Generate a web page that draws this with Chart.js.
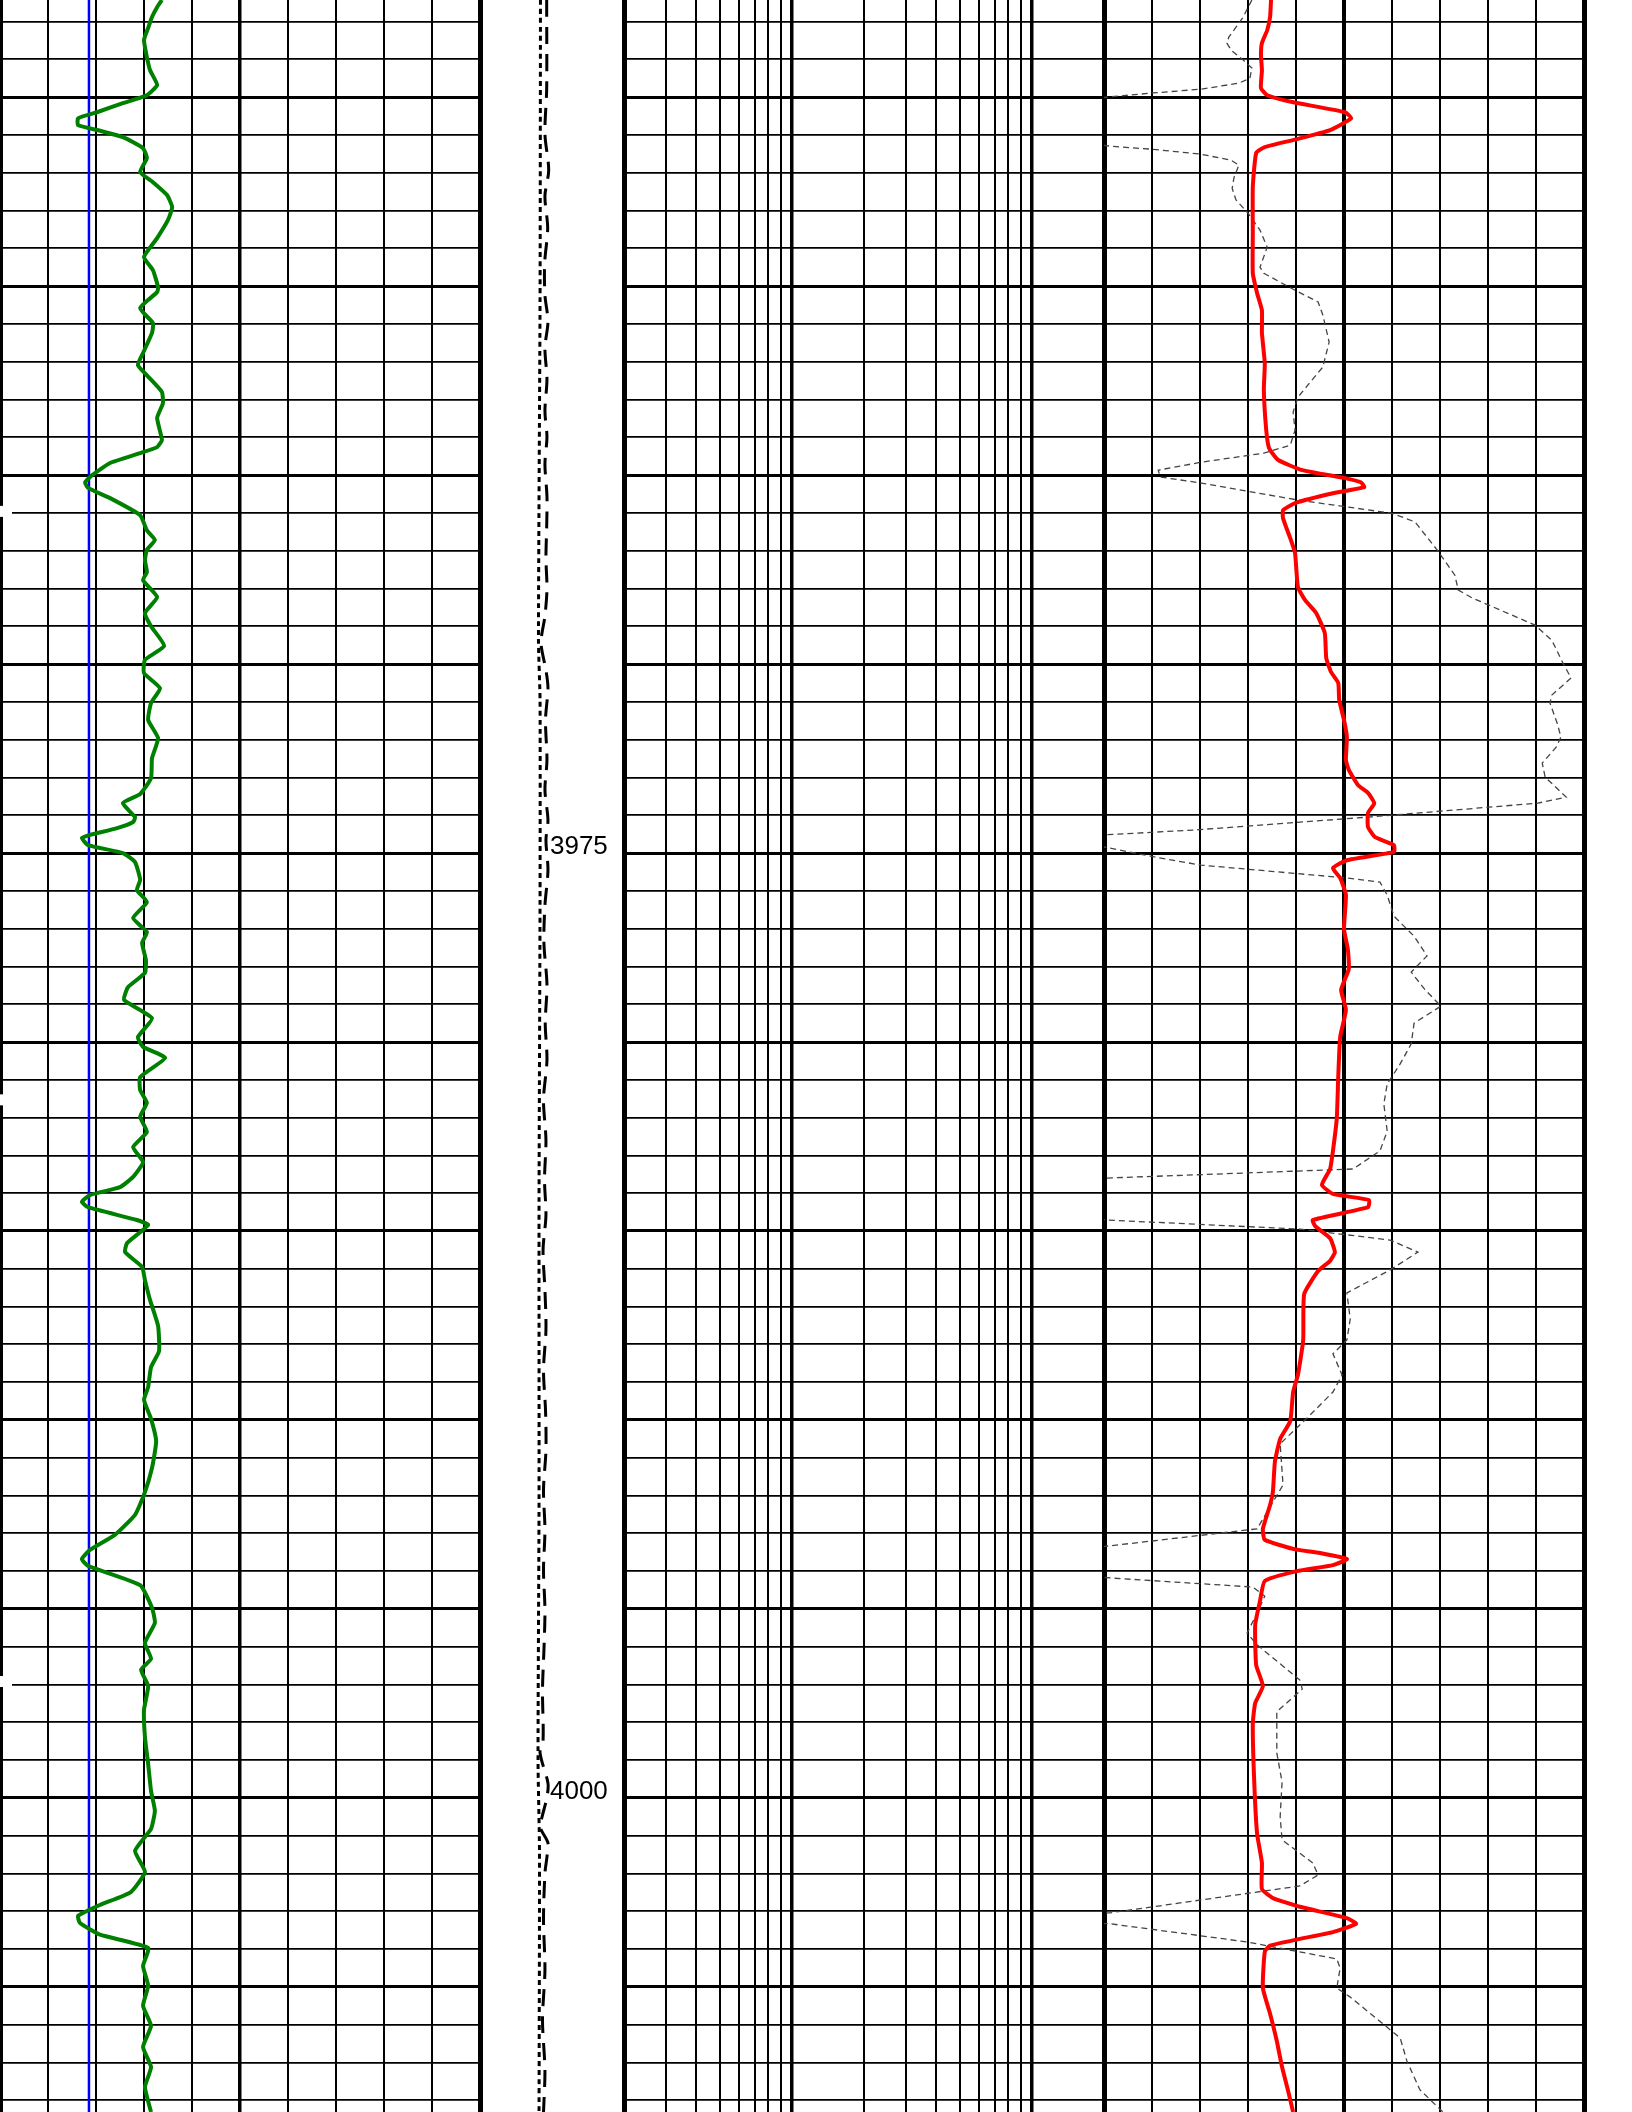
<!DOCTYPE html>
<html>
<head>
<meta charset="utf-8">
<script src="https://cdn.jsdelivr.net/npm/chart.js@4.4.0/dist/chart.umd.min.js"></script>
<style>
  body { margin: 0; background: #fff; }
  #log { position: relative; width: 1632px; height: 2112px; overflow: hidden; background: #fff; }
  #log canvas { position: absolute; top: 0; }
</style>
</head>
<body>
<div id="log">
  <canvas id="track1" width="488" height="2112" style="left:-4px"></canvas>
  <canvas id="depthTrack" width="144" height="2112" style="left:480px"></canvas>
  <canvas id="track2" width="488" height="2112" style="left:620px"></canvas>
  <canvas id="track3" width="488" height="2112" style="left:1100px"></canvas>
</div>
<script>
// depth window shown (ft)
const topDepth = 3952.43;
const bottomDepth = 4008.31;
const depthLabels = [3975, 4000];
// little breaks in the left edge of track 1
const edgeBreakDepths = [3966.0, 3981.57, 3996.96];

// one grid line per foot, heavy every 5 ft
const depthTicks = [];
for (let d = 3953; d <= 4008; d++) depthTicks.push(d);

// track 1 scale 0 - 150
const track1Ticks = [0, 15, 30, 45, 60, 75, 90, 105, 120, 135, 150];
// track 2 log scale 0.2 - 20
const track2Ticks = [0.2, 0.3, 0.4, 0.5, 0.6, 0.7, 0.8, 0.9, 1, 2, 3, 4, 5, 6, 7, 8, 9, 10, 20];
// track 3 scale 0 - 100
const track3Ticks = [0, 10, 20, 30, 40, 50, 60, 70, 80, 90, 100];

// green curve, track 1
const greenDepth = [3952.43, 3952.62, 3952.88, 3953.17, 3953.49, 3953.94, 3954.29, 3954.68, 3954.95, 3955.16,
  3955.40, 3955.56, 3955.74, 3955.87, 3956.06, 3956.35, 3956.61, 3956.98, 3957.25, 3957.59,
  3957.91, 3958.25, 3958.73, 3959.23, 3959.58, 3960.03, 3960.16, 3960.58, 3960.98, 3961.24,
  3961.77, 3962.09, 3962.36, 3962.80, 3963.10, 3963.49, 3964.07, 3964.26, 3964.42, 3964.68,
  3965.00, 3965.19, 3965.34, 3965.61, 3966.06, 3966.46, 3966.72, 3966.98, 3967.25, 3967.57,
  3967.78, 3968.23, 3968.65, 3969.00, 3969.52, 3969.89, 3970.24, 3970.64, 3971.03, 3971.48,
  3971.96, 3972.49, 3973.02, 3973.44, 3973.68, 3974.05, 3974.18, 3974.34, 3974.52, 3974.60,
  3974.79, 3975.00, 3975.24, 3975.71, 3975.98, 3976.30, 3976.72, 3977.09, 3977.38, 3977.83,
  3978.17, 3978.55, 3978.89, 3979.37, 3979.87, 3980.13, 3980.42, 3980.93, 3981.27, 3981.61,
  3981.98, 3982.38, 3982.78, 3983.18, 3983.57, 3983.84, 3984.05, 3984.23, 3984.37, 3984.71,
  3984.84, 3985.32, 3985.56, 3985.95, 3986.30, 3986.83, 3987.51, 3988.18, 3988.60, 3989.13,
  3989.47, 3989.97, 3990.56, 3991.27, 3991.98, 3992.51, 3993.04, 3993.44, 3993.68, 3993.86,
  3994.37, 3994.97, 3995.37, 3995.90, 3996.32, 3996.61, 3997.04, 3997.67, 3998.39, 3999.10,
  3999.82, 4000.34, 4000.82, 4001.40, 4001.96, 4002.49, 4002.83, 4003.12, 4003.31, 4003.62,
  4003.97, 4004.45, 4004.97, 4005.50, 4006.03, 4006.59, 4007.12, 4007.65, 4008.31];
const greenValue = [50.6, 49.1, 47.5, 46.3, 45.0, 45.9, 46.9, 49.1, 45.9, 38.4,
  30.3, 24.4, 24.4, 30.3, 38.4, 44.7, 45.9, 43.8, 47.8, 52.2,
  53.8, 52.5, 49.1, 45.0, 47.8, 49.4, 49.1, 43.8, 47.8, 47.5,
  44.7, 43.1, 45.9, 50.6, 50.9, 49.1, 50.6, 49.1, 43.8, 34.4,
  28.8, 26.6, 27.5, 34.4, 43.8, 45.9, 48.4, 45.9, 45.3, 45.9,
  44.7, 49.1, 45.3, 47.2, 51.3, 45.3, 45.0, 50.0, 47.2, 46.3,
  49.4, 47.5, 47.2, 43.8, 38.4, 42.2, 41.6, 36.6, 28.1, 25.6,
  27.5, 38.4, 42.2, 43.8, 42.8, 45.9, 41.6, 45.9, 44.4, 45.6,
  45.3, 40.0, 38.8, 47.5, 43.1, 44.7, 51.6, 43.8, 43.8, 45.9,
  43.8, 45.9, 41.6, 44.7, 41.6, 37.5, 28.1, 25.6, 27.5, 42.8,
  46.3, 39.7, 39.1, 44.4, 45.3, 46.9, 49.4, 49.7, 47.2, 46.3,
  45.0, 47.2, 48.8, 47.5, 45.0, 42.2, 35.9, 28.1, 25.6, 27.5,
  43.8, 47.5, 48.4, 45.3, 47.2, 44.1, 46.3, 45.0, 45.3, 46.3,
  47.2, 48.4, 47.2, 42.2, 45.3, 40.9, 31.3, 24.4, 25.0, 31.3,
  46.3, 44.7, 46.3, 44.7, 47.2, 44.7, 47.2, 45.3, 47.2];
// blue cutoff line, track 1
const blueValue = 27.8;

// red curve, track 3
const redDepth = [3952.43, 3952.88, 3953.23, 3953.57, 3953.89, 3954.29, 3954.76, 3954.95, 3955.13, 3955.40,
  3955.56, 3955.87, 3956.11, 3956.32, 3956.48, 3957.38, 3958.60, 3959.66, 3960.19, 3960.64,
  3961.24, 3962.04, 3962.75, 3963.81, 3964.29, 3964.60, 3964.87, 3965.08, 3965.19, 3965.32,
  3965.48, 3965.74, 3965.93, 3966.14, 3966.67, 3967.06, 3967.96, 3968.31, 3968.65, 3969.18,
  3969.84, 3970.21, 3970.50, 3970.95, 3971.48, 3971.93, 3972.54, 3972.80, 3973.20, 3973.41,
  3973.68, 3973.94, 3974.31, 3974.58, 3974.79, 3974.97, 3975.19, 3975.40, 3975.66, 3976.11,
  3977.01, 3977.54, 3978.07, 3978.62, 3979.15, 3979.87, 3980.93, 3982.01, 3982.88, 3983.36,
  3983.78, 3984.02, 3984.18, 3984.37, 3984.71, 3984.87, 3985.19, 3985.56, 3985.79, 3986.06,
  3986.67, 3987.88, 3988.81, 3989.26, 3990.03, 3990.50, 3991.11, 3991.88, 3992.25, 3992.88,
  3993.17, 3993.41, 3993.52, 3993.68, 3993.84, 3994.00, 3994.26, 3994.79, 3995.42, 3996.48,
  3997.04, 3997.49, 3998.04, 3999.58, 4000.95, 4001.72, 4002.41, 4002.65, 4002.88, 4003.18,
  4003.33, 4003.55, 4003.73, 4003.91, 4004.07, 4005.03, 4005.71, 4006.43, 4007.12, 4007.72,
  4008.31];
const redValue = [34.8, 34.6, 34.0, 32.9, 32.7, 32.9, 32.7, 34.0, 39.2, 50.2,
  51.5, 47.1, 40.2, 33.5, 31.7, 31.0, 31.0, 31.0, 31.9, 32.9,
  32.9, 33.5, 33.3, 33.8, 34.4, 36.3, 41.3, 50.2, 53.5, 54.2,
  47.7, 39.8, 37.3, 37.3, 38.8, 39.8, 40.4, 41.9, 44.2, 46.0,
  46.3, 47.3, 48.8, 49.0, 50.0, 50.6, 50.4, 51.0, 52.9, 55.0,
  56.3, 55.0, 55.0, 56.5, 60.4, 60.4, 50.6, 47.7, 49.2, 50.4,
  50.0, 50.8, 51.0, 49.4, 50.4, 49.2, 48.8, 48.5, 47.7, 47.1,
  45.4, 47.7, 55.2, 55.0, 43.5, 44.0, 47.1, 48.1, 47.1, 44.6,
  41.7, 41.5, 40.4, 39.4, 38.8, 36.7, 35.6, 35.2, 34.6, 33.1,
  33.5, 39.4, 45.0, 50.6, 47.7, 40.2, 33.5, 32.5, 31.5, 31.7,
  33.1, 31.5, 31.0, 31.3, 31.9, 32.9, 32.9, 35.2, 40.8, 50.6,
  52.5, 47.7, 40.8, 34.6, 33.5, 33.1, 34.6, 36.0, 37.1, 38.3,
  39.4];

// grey dashed curve, track 3 (values below 0 run off the track)
const dashDepth = [3952.43, 3952.88, 3953.15, 3953.41, 3953.57, 3953.76, 3954.02, 3954.23, 3954.50, 3954.63,
  3954.79, 3954.89, 3955.00, 3955.61, 3956.30, 3956.38, 3956.51, 3956.67, 3956.80, 3957.12,
  3957.41, 3957.72, 3958.07, 3958.52, 3958.97, 3959.50, 3959.66, 3960.11, 3960.42, 3960.77,
  3961.48, 3962.14, 3962.49, 3962.94, 3963.33, 3963.81, 3964.21, 3964.42, 3964.66, 3964.87,
  3965.05, 3965.21, 3965.66, 3966.01, 3966.24, 3966.98, 3967.65, 3968.04, 3968.25, 3968.97,
  3969.37, 3969.97, 3970.37, 3970.82, 3971.03, 3971.56, 3971.93, 3972.20, 3972.62, 3972.99,
  3973.52, 3973.68, 3974.05, 3974.39, 3974.52, 3974.68, 3974.84, 3975.11, 3975.32, 3975.66,
  3975.77, 3976.11, 3976.67, 3977.20, 3977.72, 3978.15, 3978.62, 3979.05, 3979.50, 3980.05,
  3980.58, 3981.11, 3981.64, 3982.36, 3982.88, 3983.36, 3983.60, 3984.15, 3984.71, 3984.95,
  3985.24, 3985.56, 3986.03, 3986.64, 3987.33, 3987.88, 3988.25, 3988.81, 3989.26, 3989.95,
  3990.63, 3991.72, 3992.17, 3992.88, 3993.33, 3993.76, 3994.18, 3994.42, 3994.66, 3995.11,
  3995.64, 3995.95, 3996.88, 3997.12, 3997.72, 3998.81, 3999.58, 4000.50, 4001.11, 4001.72,
  4002.04, 4002.33, 4003.04, 4003.18, 4003.33, 4003.81, 4004.26, 4004.50, 4005.03, 4005.27,
  4006.35, 4006.96, 4007.72, 4008.31];
const dashValue = [30.8, 29.0, 27.5, 26.0, 25.6, 26.5, 29.0, 30.8, 30.4, 28.1,
  20.2, 10.2, 0.6, -40, 1.5, 10.2, 20.2, 26.5, 28.1, 27.1,
  26.7, 27.5, 30.0, 32.5, 34.0, 32.5, 33.3, 39.8, 44.6, 45.6,
  46.9, 45.6, 43.3, 40.4, 39.4, 39.8, 38.8, 33.3, 20.2, 11.3,
  11.7, 20.2, 40.4, 60.0, 64.8, 69.4, 73.1, 73.8, 76.7, 89.8,
  93.3, 95.6, 97.3, 93.3, 92.9, 94.4, 95.2, 94.2, 91.3, 91.9,
  96.3, 90.4, 55.0, 18.8, 0.0, -40, 0.0, 10.8, 20.2, 50.6,
  57.5, 59.0, 60.4, 64.6, 67.3, 64.0, 66.9, 70.2, 64.6, 64.0,
  61.7, 59.0, 58.3, 59.0, 57.5, 51.9, 0.6, -40, 0.6, 40.8,
  59.6, 65.4, 59.6, 50.6, 51.3, 50.6, 47.7, 49.6, 47.7, 42.3,
  36.7, 37.3, 35.2, 31.9, 1.3, -40, 1.3, 31.0, 33.5, 31.9,
  29.8, 31.9, 40.8, 41.3, 36.0, 36.0, 37.1, 36.7, 37.1, 43.5,
  44.6, 40.8, 1.3, -40, 1.3, 29.8, 48.5, 49.2, 48.5, 51.3,
  61.7, 63.1, 65.8, 70.6];

// depth track curves, scale 0 - 10
const dottedDepth = [3952.43, 3960.37, 3969.37, 3970.95, 3976.24, 3984.18, 3992.12, 3999.00, 4001.38, 4008.31];
const dottedValue = [4.20, 4.17, 4.06, 4.17, 4.17, 4.10, 4.10, 4.03, 4.13, 4.10];
const longDashDepth = [3952.43, 3954.79, 3955.98, 3956.93, 3957.62, 3958.47, 3959.39, 3960.24, 3960.93, 3961.64,
  3962.46, 3963.31, 3963.99, 3964.71, 3965.56, 3966.38, 3967.20, 3968.02, 3968.73, 3969.44,
  3970.16, 3970.63, 3971.48, 3972.54, 3973.33, 3974.13, 3974.66, 3975.45, 3976.38, 3977.38,
  3978.49, 3979.50, 3980.48, 3981.53, 3982.59, 3983.65, 3984.58, 3985.50, 3986.56, 3987.62,
  3988.68, 3989.74, 3990.79, 3991.85, 3992.91, 3993.97, 3995.03, 3996.09, 3997.14, 3998.47,
  3998.81, 3999.61, 3999.98, 4000.50, 4000.77, 4001.19, 4001.56, 4001.99, 4003.23, 4004.55,
  4005.87, 4007.20, 4008.31];
const longDashValue = [4.63, 4.63, 4.51, 4.77, 4.51, 4.70, 4.49, 4.51, 4.72, 4.51,
  4.65, 4.51, 4.65, 4.51, 4.65, 4.63, 4.58, 4.65, 4.51, 4.24,
  4.58, 4.72, 4.55, 4.65, 4.51, 4.72, 4.58, 4.72, 4.51, 4.44,
  4.65, 4.53, 4.65, 4.41, 4.58, 4.48, 4.58, 4.38, 4.51, 4.58,
  4.41, 4.55, 4.58, 4.41, 4.51, 4.41, 4.51, 4.44, 4.34, 4.38,
  4.17, 4.72, 4.65, 4.31, 4.17, 4.72, 4.65, 4.51, 4.41, 4.51,
  4.34, 4.51, 4.41];
const depthLabelX = 4.86;

const toPoints = (depths, values) => depths.map((d, i) => ({ x: values[i], y: d }));

// shared vertical depth axis
function depthAxis(show) {
  return {
    type: "linear",
    min: topDepth,
    max: bottomDepth,
    reverse: true,
    display: show,
    afterBuildTicks: (scale) => { scale.ticks = depthTicks.map((v) => ({ value: v })); },
    ticks: { display: false },
    border: { display: false },
    grid: {
      drawTicks: false,
      color: "#000",
      lineWidth: (c) => (c.tick && c.tick.value % 5 === 0 ? 3 : 1.8),
    },
  };
}

function valueAxis(type, min, max, ticks, widthFor) {
  return {
    type: type,
    min: min,
    max: max,
    position: "bottom",
    afterBuildTicks: (scale) => { scale.ticks = ticks.map((v) => ({ value: v })); },
    ticks: { display: false },
    border: { display: false },
    grid: {
      drawTicks: false,
      color: "#000",
      lineWidth: (c) => (c.tick ? widthFor(c.tick.value) : 2),
    },
  };
}

const baseOptions = (scales, pad) => ({
  responsive: false,
  animation: false,
  events: [],
  layout: { padding: { left: pad, right: pad, top: 0, bottom: 0 } },
  plugins: { legend: { display: false }, tooltip: { enabled: false } },
  scales: scales,
});

const curve = (data, color, width, extra) => Object.assign({
  data: data,
  showLine: true,
  borderColor: color,
  borderWidth: width,
  pointRadius: 0,
  fill: false,
  clip: 0,
}, extra);

// white nicks in the left edge of track 1
const edgeBreakPlugin = {
  id: "edgeBreaks",
  beforeDatasetsDraw(chart) {
    const { ctx, chartArea, scales } = chart;
    ctx.save();
    ctx.fillStyle = "#fff";
    edgeBreakDepths.forEach((d) => {
      const y = scales.y.getPixelForValue(d);
      ctx.fillRect(0, y - 7, chartArea.left + 12, 11);
    });
    ctx.restore();
  },
};

// Track 1
new Chart(document.getElementById("track1"), {
  type: "scatter",
  data: {
    datasets: [
      curve(toPoints(greenDepth, greenValue), "#008000", 4, { tension: 0.15 }),
      curve([{ x: blueValue, y: topDepth }, { x: blueValue, y: bottomDepth }], "#0000ff", 2.5, {}),
    ],
  },
  options: baseOptions({
    x: valueAxis("linear", 0, 150, track1Ticks, (v) => (v === 0 || v === 150 ? 5 : v === 75 ? 3.5 : 2)),
    y: depthAxis(true),
  }, 4),
  plugins: [edgeBreakPlugin],
});

// Depth track with labels
const depthLabelPlugin = {
  id: "depthLabels",
  afterDatasetsDraw(chart) {
    const { ctx, scales } = chart;
    ctx.save();
    ctx.fillStyle = "#000";
    ctx.font = '26px "Liberation Sans", Arial, sans-serif';
    ctx.textAlign = "left";
    ctx.textBaseline = "alphabetic";
    depthLabels.forEach((d) => {
      ctx.fillText(String(d), scales.x.getPixelForValue(depthLabelX), scales.y.getPixelForValue(d) + 1);
    });
    ctx.restore();
  },
};

new Chart(document.getElementById("depthTrack"), {
  type: "scatter",
  data: {
    datasets: [
      curve(toPoints(dottedDepth, dottedValue), "#000", 3, { borderDash: [5, 4], tension: 0.2 }),
      curve(toPoints(longDashDepth, longDashValue), "#000", 3, { borderDash: [17, 10], tension: 0.3 }),
    ],
  },
  options: baseOptions({
    x: { type: "linear", min: 0, max: 10, display: false },
    y: depthAxis(false),
  }, 0),
  plugins: [depthLabelPlugin],
});

// Track 2 (logarithmic, empty)
new Chart(document.getElementById("track2"), {
  type: "scatter",
  data: { datasets: [] },
  options: baseOptions({
    x: valueAxis("logarithmic", 0.2, 20, track2Ticks, (v) => (v === 0.2 || v === 20 ? 5 : v === 1 || v === 10 ? 3.5 : 2)),
    y: depthAxis(true),
  }, 4),
});

// Track 3
new Chart(document.getElementById("track3"), {
  type: "scatter",
  data: {
    datasets: [
      curve(toPoints(redDepth, redValue), "#ff0000", 4, { tension: 0.15 }),
      curve(toPoints(dashDepth, dashValue), "#444", 1.3, { borderDash: [6, 4], tension: 0 }),
    ],
  },
  options: baseOptions({
    x: valueAxis("linear", 0, 100, track3Ticks, (v) => (v === 0 || v === 100 ? 5 : v === 50 ? 4 : 2)),
    y: depthAxis(true),
  }, 4),
});
</script>
</body>
</html>
